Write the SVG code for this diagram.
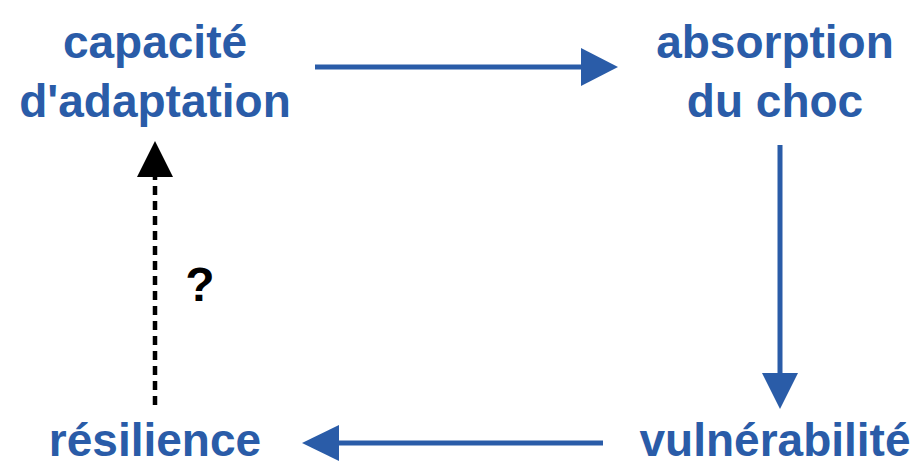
<svg xmlns="http://www.w3.org/2000/svg" width="916" height="468" viewBox="0 0 916 468">
<defs>
<style>
.t{font-family:"Liberation Sans",Arial,sans-serif;font-weight:bold;font-size:46px;fill:#2a5ca8;text-anchor:middle}
.b{stroke:#2a5ca8;stroke-width:5;fill:none}
.ah{fill:#2a5ca8}
</style>
</defs>
<rect width="916" height="468" fill="#ffffff"/>
<g id="capacite">
<text class="t" x="155" y="58">capacité</text>
<text class="t" x="155" y="117">d'adaptation</text>
</g>
<g id="absorption">
<text class="t" x="775" y="58">absorption</text>
<text class="t" x="775" y="117">du choc</text>
</g>
<g id="vulnerabilite">
<text class="t" x="775" y="456">vulnérabilité</text>
</g>
<g id="resilience">
<text class="t" x="155" y="456">résilience</text>
</g>
<g id="connectors">
<line class="b" x1="315" y1="67" x2="584" y2="67"/>
<polygon class="ah" points="581,48 618,67 581,86"/>
<line class="b" x1="780" y1="145" x2="780" y2="376"/>
<polygon class="ah" points="762,373 798,373 780,409"/>
<line class="b" x1="603" y1="443" x2="336" y2="443"/>
<polygon class="ah" points="339,425 339,461 302,443"/>
<line x1="155" y1="405" x2="155" y2="175" stroke="#000" stroke-width="4.5" stroke-dasharray="9,6"/>
<polygon points="155,141 173,177 137,177" fill="#000"/>
<text x="200" y="301" font-family="'Liberation Sans',Arial,sans-serif" font-weight="bold" font-size="48" text-anchor="middle" fill="#000">?</text>
</g>
</svg>
